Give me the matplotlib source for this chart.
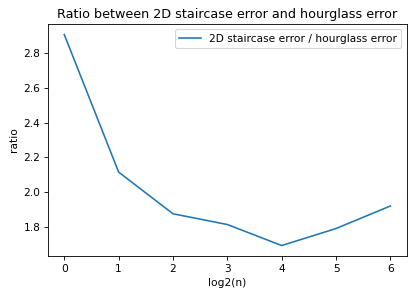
import numpy as np
import matplotlib
matplotlib.use("Agg")
import matplotlib.pyplot as plt

# data
log2n = [0, 1, 2, 3, 4, 5, 6]
ratio = [2.907, 2.115, 1.875, 1.813, 1.692, 1.790, 1.920]

dpi = 76.7
fig = plt.figure(figsize=(410 / dpi, 293 / dpi), dpi=dpi)
ax = fig.add_axes([0.117, 0.126, 0.875, 0.792])
ax.plot(log2n, ratio, label="2D staircase error / hourglass error")
ax.set_title("Ratio between 2D staircase error and hourglass error")
ax.set_xlabel("log2(n)")
ax.set_ylabel("ratio")
ax.legend()

fig.savefig("out.png", dpi=dpi)
